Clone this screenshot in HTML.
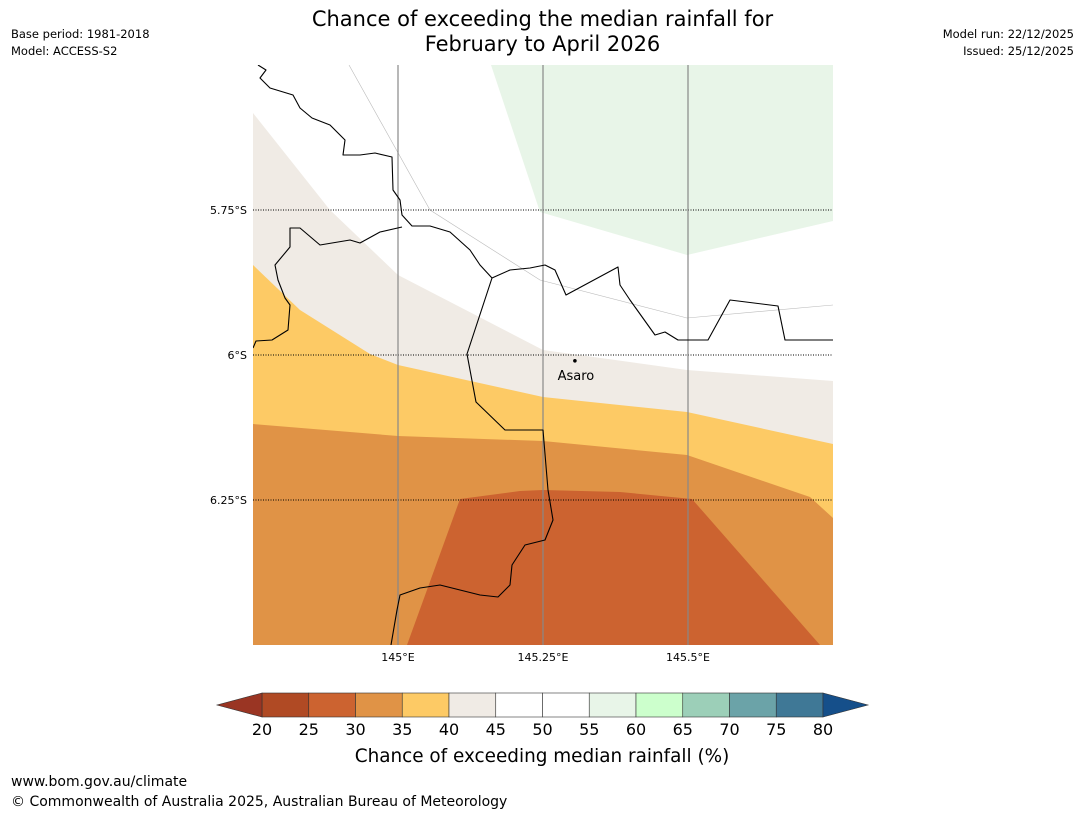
<!DOCTYPE html>
<html><head><meta charset="utf-8">
<style>
body{margin:0;background:#fff;font-family:"DejaVu Sans","Liberation Sans",sans-serif;}
#wrap{position:relative;width:1085px;height:816px;overflow:hidden;}
.t{position:absolute;white-space:nowrap;color:#000;}
svg text{font-family:"DejaVu Sans","Liberation Sans",sans-serif;}
</style></head><body>
<div id="wrap">
<div class="t" style="left:0;width:1085px;top:7px;text-align:center;font-size:21px;line-height:25px;">Chance of exceeding the median rainfall for<br>February to April 2026</div>
<div class="t" style="left:11px;top:26px;font-size:11.5px;line-height:17px;">Base period: 1981-2018<br>Model: ACCESS-S2</div>
<div class="t" style="right:11px;top:26px;font-size:11.5px;line-height:17px;text-align:right;">Model run: 22/12/2025<br>Issued: 25/12/2025</div>
<div class="t" style="left:11px;top:774px;font-size:14px;">www.bom.gov.au/climate</div>
<div class="t" style="left:11px;top:794px;font-size:14px;">© Commonwealth of Australia 2025, Australian Bureau of Meteorology</div>
<svg id="svg" width="1085" height="816" style="position:absolute;left:0;top:0"></svg>
</div>
<script>
const binEdges=[20,25,30,35,40,45,50,55,60,65,70,75,80];
const binColors=["#b04a24","#cc6330","#e09346","#fdca65","#f0ebe5","#ffffff","#ffffff","#e8f5e8","#ccffcc","#9ccfb8","#6ba3a8","#3f7896"];
const lowColor="#9a3523", highColor="#154f8a";
const lonTicks=[145,145.25,145.5];
const lonLabels=["145°E","145.25°E","145.5°E"];
const latTicks=[5.75,6,6.25];
const latLabels=["5.75°S","6°S","6.25°S"];
const town={name:"Asaro",lon:145.305,lat:6.01};

const L=253,R=833,T=65,B=645,lon0=144.75,lon1=145.75,lat0=5.5,lat1=6.5;
const X=lon=>L+(lon-lon0)/(lon1-lon0)*(R-L);
const Y=lat=>T+(lat-lat0)/(lat1-lat0)*(B-T);
const px2ll=(p)=>[lon0+(p[0]-L)/(R-L)*(lon1-lon0),lat0+(p[1]-T)/(B-T)*(lat1-lat0)];
const toLL=a=>a.map(px2ll);
const regions=[
 {name:"region-30-35",c:binColors[2],pts:toLL([[253,65],[833,65],[833,645],[253,645]])},
 {name:"region-35-40",c:binColors[3],pts:toLL([[253,65],[833,65],[833,518],[810,497],[687,455],[543,441],[398,436],[253,424]])},
 {name:"region-40-45",c:binColors[4],pts:toLL([[253,65],[833,65],[833,444],[687,412],[543,397],[398,365],[370,354],[300,310],[253,265]])},
 {name:"region-45-55",c:"#ffffff",pts:toLL([[253,65],[833,65],[833,381],[687,370],[543,350],[398,275],[330,210],[253,113]])},
 {name:"region-55-60",c:binColors[7],pts:toLL([[491,65],[833,65],[833,221],[687,255],[540,212]])},
 {name:"region-25-30",c:binColors[1],pts:toLL([[460,499],[520,491],[543,490],[620,492],[692,499],[820,645],[407,645]])}
];
const coast1=toLL([[258,65],[266,70],[260,78],[270,88],[293,95],[300,108],[312,118],[330,125],[345,140],[343,155],[360,155],[375,153],[392,157],[393,190],[400,200],[402,215],[412,226],[430,226],[450,232],[470,250],[480,265],[492,278],[510,270],[530,268],[545,265],[555,270],[566,295],[618,267],[620,285],[630,300],[655,335],[665,332],[678,340],[708,340],[730,300],[778,306],[785,340],[833,340]]);
const coast2=toLL([[253,348],[256,341],[272,340],[288,330],[290,305],[285,298],[278,280],[275,265],[290,247],[290,228],[300,228],[320,245],[350,240],[360,243],[380,232],[402,227]]);
const border=toLL([[492,278],[467,354],[476,402],[505,430],[543,430],[548,490],[553,520],[545,540],[525,545],[512,565],[510,585],[498,597],[480,595],[460,590],[440,585],[420,588],[400,595],[397,610],[391,645]]);
const faint=toLL([[349,65],[430,210],[540,280],[687,318],[833,305]]);

const S="http://www.w3.org/2000/svg",svg=document.getElementById('svg');
function mk(t,a,p){const e=document.createElementNS(S,t);for(const k in a)e.setAttribute(k,a[k]);(p||svg).appendChild(e);return e;}
const ptsStr=a=>a.map(p=>X(p[0]).toFixed(1)+","+Y(p[1]).toFixed(1)).join(" ");
const clip=mk('clipPath',{id:'mc'});mk('rect',{x:L,y:T,width:R-L,height:B-T},clip);
const g=mk('g',{'clip-path':'url(#mc)'});
regions.forEach(r=>{const e=mk('polygon',{points:ptsStr(r.pts),fill:r.c},g);

});
let f=mk('polyline',{points:ptsStr(faint),fill:'none',stroke:'#bbb','stroke-width':0.6},g);


latTicks.forEach((v,i)=>{let e=mk('line',{x1:L,x2:R,y1:Y(v),y2:Y(v),stroke:'#000','stroke-width':1,'stroke-dasharray':'1,1.5'},g);


let t=mk('text',{x:L-6,y:Y(v)+4,'text-anchor':'end','font-size':11});t.textContent=latLabels[i];

});
lonTicks.forEach((v,i)=>{let e=mk('line',{x1:X(v),x2:X(v),y1:T,y2:B,stroke:'#888','stroke-width':1.2},g);


let t=mk('text',{x:X(v),y:B+16,'text-anchor':'middle','font-size':11});t.textContent=lonLabels[i];

});
[coast1,coast2,border].forEach((c,i)=>{let e=mk('polyline',{points:ptsStr(c),fill:'none',stroke:'#000','stroke-width':1.1,'stroke-linejoin':'round'},g);

});
let d=mk('circle',{cx:X(town.lon),cy:Y(town.lat),r:1.8,fill:'#000'});


let tl=mk('text',{x:X(town.lon)+1,y:Y(town.lat)+19,'text-anchor':'middle','font-size':13});tl.textContent=town.name;



const cbL=262,cbR=823,cbT=693,cbB=717;
const CX=v=>cbL+(v-binEdges[0])/(binEdges[binEdges.length-1]-binEdges[0])*(cbR-cbL);
binColors.forEach((c,i)=>{let e=mk('rect',{x:CX(binEdges[i]),y:cbT,width:CX(binEdges[i+1])-CX(binEdges[i]),height:cbB-cbT,fill:c,stroke:'#333','stroke-width':0.6});

});
let lt=mk('polygon',{points:`${cbL},${cbT} ${cbL},${cbB} 217,${(cbT+cbB)/2}`,fill:lowColor,stroke:'#333','stroke-width':0.6});


let ht=mk('polygon',{points:`${cbR},${cbT} ${cbR},${cbB} 868,${(cbT+cbB)/2}`,fill:highColor,stroke:'#333','stroke-width':0.6});


binEdges.forEach(v=>{let t=mk('text',{x:CX(v),y:735,'text-anchor':'middle','font-size':16});t.textContent=v;

});
let ct=mk('text',{x:542,y:762,'text-anchor':'middle','font-size':18.4});ct.textContent="Chance of exceeding median rainfall (%)";


</script>
</body></html>
